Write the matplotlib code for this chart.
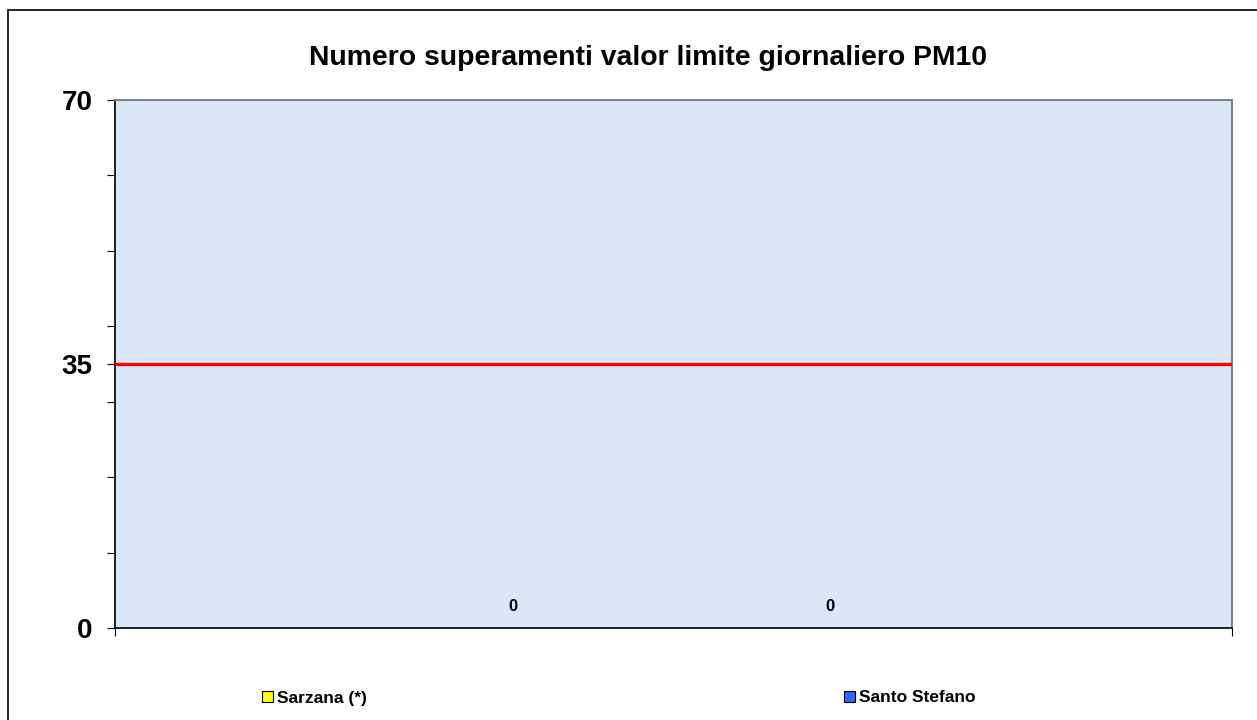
import matplotlib
matplotlib.use("Agg")
import matplotlib.pyplot as plt
from matplotlib.patches import Rectangle

plt.rcParams['font.family'] = ['Liberation Sans', 'DejaVu Sans']

# dati
stazioni = ['Sarzana (*)', 'Santo Stefano']
superamenti = [0, 0]
colori = ['#ffff00', '#3366ff']
limite = 35
yticks = [0, 10, 20, 30, 35, 40, 50, 60, 70]
ylabels_mostrate = [0, 35, 70]

fig = plt.figure(figsize=(12.57, 7.2), dpi=100)
ax = fig.add_axes([115 / 1257, 1 - 628 / 720, 1117 / 1257, 528 / 720])
ax.set_facecolor('#d8e8f6')

# cornice esterna del grafico
fig.patches.append(Rectangle((8 / 1257, -0.1), 1.2, 1 - 10 / 720 + 0.1,
                             transform=fig.transFigure, fill=False,
                             edgecolor='black', linewidth=1.2, zorder=0))

larghezza = 0.284
offsets = [-larghezza / 2, larghezza / 2]
barre = []
for nome, val, col, off in zip(stazioni, superamenti, colori, offsets):
    b = ax.bar(off, val, width=larghezza, color=col, edgecolor='black',
               linewidth=0.8, label=nome)
    barre.append(b)
    ax.annotate(str(val), (off, val), xytext=(0, 10), textcoords='offset points',
                ha='center', va='bottom', fontsize=12, fontweight='bold')

ax.axhline(limite, color='#ff0000', linewidth=2.4, zorder=3)

ax.set_xlim(-0.498, 0.502)
ax.set_ylim(0, 70)
ax.set_xticks([-0.498, 0.502])
ax.set_xticklabels(['', ''])
ax.set_yticks(yticks)
ax.set_yticklabels([str(t) if t in ylabels_mostrate else '' for t in yticks],
                   fontsize=20, fontweight='bold')
ax.tick_params(axis='both', direction='out', length=6, width=0.8, pad=10)

for lato in ['top', 'right']:
    ax.spines[lato].set_color('#808080')
    ax.spines[lato].set_linewidth(1.5)
for lato in ['left', 'bottom']:
    ax.spines[lato].set_color('black')
    ax.spines[lato].set_linewidth(1.2)

fig.text(648 / 1257, 1 - 58 / 720, 'Numero superamenti valor limite giornaliero PM10',
         ha='center', va='center', fontsize=20.4, fontweight='bold')

fig.legend(handles=barre, labels=stazioni, loc='center left',
           bbox_to_anchor=(262 / 1257, 1 - 698 / 720), ncol=2, frameon=False,
           prop={'size': 12.5, 'weight': 'bold'}, handlelength=0.65, handleheight=0.65,
           handletextpad=0.2, columnspacing=27.5, borderpad=0, borderaxespad=0)

fig.savefig('out.png', dpi=100)
